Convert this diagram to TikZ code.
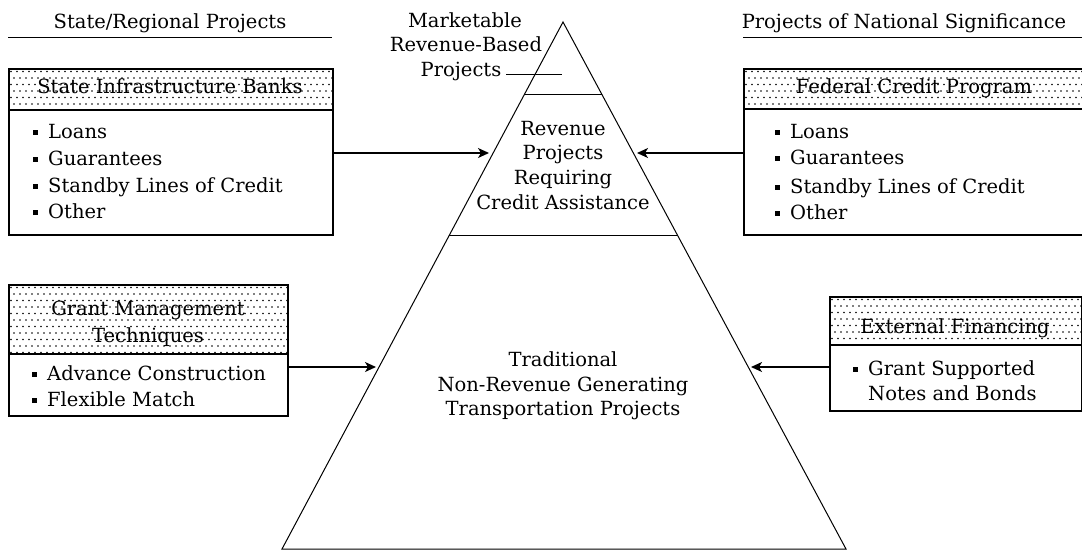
\documentclass[tikz,border=0pt]{standalone}
\usepackage{fontspec}
\setmainfont{DejaVu Serif}
\usetikzlibrary{arrows.meta}
\newcommand{\bul}{\raisebox{3.5pt}{\rule{5pt}{5pt}}\hspace{10pt}}
\newcommand{\dotgrid}[4]{%
  \begin{scope}
    \clip (#1,#2) rectangle (#3,#4);
    \foreach \j in {0,...,11}{%
      \foreach \i in {0,...,58}{%
        \fill ({#1+3+6*\i+3*mod(\j,2)},{#2+3.5+6.5*\j}) circle (0.85pt);
      }%
    }%
  \end{scope}%
}
\tikzset{
  hdr/.style={draw, line width=1.6pt, rectangle, anchor=north west, inner sep=0pt},
  bodybox/.style={draw, line width=1.6pt, rectangle, anchor=north west, inner sep=0pt},
  txt/.style={font=\fontsize{19.5}{24}\selectfont, inner sep=0pt, anchor=base},
  itm/.style={font=\fontsize{19.5}{24}\selectfont, inner sep=0pt, anchor=base west},
  arr/.style={line width=1.5pt, -{Stealth[length=11pt,width=10pt,inset=3pt]}},
  uline/.style={line width=1.6pt},
  tri/.style={line width=1pt}
}
\begin{document}
\begin{tikzpicture}[x=1pt,y=-1pt]
\useasboundingbox (0,0) rectangle (1082,550);
% dotted header fills
\dotgrid{8}{68}{332}{109}
\dotgrid{743}{68}{1084}{108}
\dotgrid{8}{284}{287}{353}
\dotgrid{829}{296}{1081}{344}
% titles
\node[txt] (tl) at (170,28) {State/Regional Projects};
\coordinate (ul1) at (8,37.5); \coordinate (ul2) at (332,37.5);
\draw[uline] (ul1) -- (ul2);
\node[txt] (tr) at (904,28) {Projects of National Significance};
\coordinate (ur1) at (743,37.5); \coordinate (ur2) at (1084,37.5);
\draw[uline] (ur1) -- (ur2);
% triangle
\coordinate (apex) at (563,22);
\coordinate (bl) at (282,549);
\coordinate (br) at (846,549);
\draw[tri] (bl) -- (apex) -- (br) -- cycle;
\coordinate (l1a) at (524,94.5); \coordinate (l1b) at (602,94.5);
\draw[tri] (l1a) -- (l1b);
\coordinate (l2a) at (449,235.5); \coordinate (l2b) at (677,235.5);
\draw[tri] (l2a) -- (l2b);
% marketable label
\node[txt] (mk1) at (465,27) {Marketable};
\node[txt] (mk2) at (466,51.5) {Revenue-Based};
\node[txt] (mk3) at (461,76) {Projects};
\coordinate (pa) at (506,74); \coordinate (pb) at (562,74);
\draw[tri] (pa) -- (pb);
% revenue projects
\node[txt] (rv1) at (563,135) {Revenue};
\node[txt] (rv2) at (563,159.5) {Projects};
\node[txt] (rv3) at (563,184) {Requiring};
\node[txt] (rv4) at (563,209) {Credit Assistance};
% traditional
\node[txt] (tr1) at (563,366) {Traditional};
\node[txt] (tr2) at (563,391) {Non-Revenue Generating};
\node[txt] (tr3) at (563,415.5) {Transportation Projects};
% SIB box
\node[hdr, minimum width=324, minimum height=41] (sibh) at (8,68) {};
\node[bodybox, minimum width=324, minimum height=125] (sibb) at (8,109) {};
\node[txt] (sibt) at (170,93) {State Infrastructure Banks};
\node[itm] (s1) at (33,138) {\bul Loans};
\node[itm] (s2) at (33,165) {\bul Guarantees};
\node[itm] (s3) at (33,192) {\bul Standby Lines of Credit};
\node[itm] (s4) at (33,218.5) {\bul Other};
% FCP box
\node[hdr, minimum width=341, minimum height=40] (fcph) at (743,68) {};
\node[bodybox, minimum width=341, minimum height=126] (fcpb) at (743,108) {};
\node[txt] (fcpt) at (914,93) {Federal Credit Program};
\node[itm] (f1) at (775,138) {\bul Loans};
\node[itm] (f2) at (775,164) {\bul Guarantees};
\node[itm] (f3) at (775,193) {\bul Standby Lines of Credit};
\node[itm] (f4) at (775,219) {\bul Other};
% Grant box
\node[hdr, minimum width=279, minimum height=69] (gmh) at (8,284) {};
\node[bodybox, minimum width=279, minimum height=62] (gmb) at (8,353) {};
\node[txt] (gmt1) at (148,315) {Grant Management};
\node[txt] (gmt2) at (148,342) {Techniques};
\node[itm] (g1) at (32,380) {\bul Advance Construction};
\node[itm] (g2) at (32,406) {\bul Flexible Match};
% External box
\node[hdr, minimum width=252, minimum height=48] (efh) at (829,296) {};
\node[bodybox, minimum width=252, minimum height=66] (efb) at (829,344) {};
\node[txt] (eft) at (955,333) {External Financing};
\node[itm] (e1) at (853,375) {\bul Grant Supported};
\node[itm] (e2) at (868,400) {Notes and Bonds};
% arrows
\coordinate (a1) at (489,153);
\coordinate (a2) at (637,153);
\coordinate (a3) at (376,367);
\coordinate (a4) at (751,367);
\draw[arr] (sibb.east |- a1) -- (a1);
\draw[arr] (fcpb.west |- a2) -- (a2);
\draw[arr] (gmb.east |- a3) -- (a3);
\draw[arr] (efb.west |- a4) -- (a4);
\end{tikzpicture}
\end{document}
